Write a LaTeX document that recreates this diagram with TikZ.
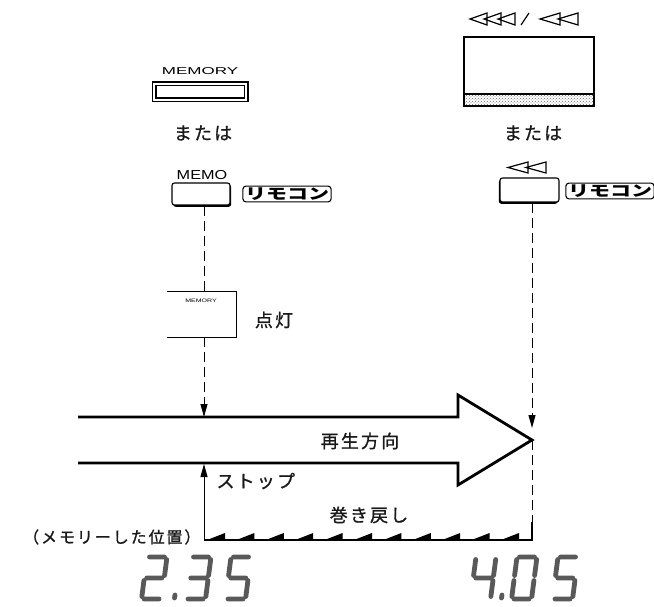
\documentclass[tikz,border=0pt]{standalone}
\usepackage{fontspec}
\setsansfont{Liberation Sans}
\newfontfamily\jp[LetterSpace=12, FakeBold=1]{Noto Sans CJK JP}
\newfontfamily\jpplain{Noto Sans CJK JP}
\usepackage{tikz}
\usetikzlibrary{arrows.meta, patterns, shadows}

% seven segment pieces (local frame, y down)
\def\sega{(2.5,0)--(17.5,0)}
\def\segb{(20,2.5)--(20,18.5)}
\def\segc{(20,23.5)--(20,39.5)}
\def\segd{(2.5,42)--(17.5,42)}
\def\sege{(0,23.5)--(0,39.5)}
\def\segf{(0,2.5)--(0,18.5)}
\def\segg{(2.5,21)--(17.5,21)}

\tikzset{
  guide/.style={dash pattern=on 10pt off 5pt, line width=1pt},
  flow/.style={line width=2.8pt, line join=miter},
  btn/.style={draw, line width=1.1pt, rounded corners=2.5pt, fill=white},
  remo/.style={draw, line width=1.1pt, rounded corners=3pt, inner sep=1.5pt,
    font=\jpplain\bfseries\fontsize{15}{15}\selectfont, xscale=1.4},
  jplabel/.style={font=\jp\fontsize{18}{18}\selectfont, text=black!90},
  seg/.style={line width=4.8pt, line cap=round, draw=black!65},
  tri/.style={line width=1.2pt, line join=miter},
}

\begin{document}
\begin{tikzpicture}[x=1pt, y=-1pt, >={Triangle[length=13pt,width=7pt]}]
    \useasboundingbox (0,0) rectangle (654,607);

    % MEMORY button
    \node[font=\sffamily\fontsize{10}{10}\selectfont, xscale=1.7] (memorytxt) at (200,71) {MEMORY};
    \node[draw, double, line width=1.4pt, double distance=2.2pt, minimum width=92pt, minimum height=16pt] (memorybtn) at (200,92) {};
    \node[jplabel] (orL) at (203,133) {または};

    % MEMO button and remote
    \node[font=\sffamily\fontsize{13}{13}\selectfont, xscale=1.25] (memotxt) at (202,175) {MEMO};
    \node[btn, minimum width=58pt, minimum height=22pt,
          general shadow={fill=black, shadow xshift=1.2pt, shadow yshift=-1.8pt}] (memobtn) at (201,194) {};
    \node[remo] (remoL) at (287,194) {リモコン};

    % memory lamp
    \node[minimum width=69pt, minimum height=45pt] (lamp) at (201.5,314.5) {};
    \draw[line width=1.3pt] (lamp.north west) -- (lamp.north east) -- (lamp.south east) -- (lamp.south west);
    \node[font=\sffamily\fontsize{5}{5}\selectfont, xscale=1.4] (lamptxt) at (201,301) {MEMORY};
    \node[jplabel] (lit) at (274,320) {点灯};

    % rewind keys
    \foreach \t in {470,484,498}
        \draw[tri] (\t,19) -- (\t+17,13) -- (\t+17,25) -- cycle;
    \draw[line width=1.2pt] (521,25) -- (529,13);
    \foreach \t in {540,558}
        \draw[tri] (\t,19) -- (\t+20,13) -- (\t+20,25) -- cycle;
    \node[draw, line width=2pt, minimum width=130pt, minimum height=69pt] (rewpanel) at (529,71.5) {};
    \fill[pattern=crosshatch dots, pattern color=black!60] (465,94) rectangle (593,105);
    \draw[line width=1.2pt] (465,94) -- (593,94);
    \node[jplabel] (orR) at (533,133) {または};
    \foreach \t in {508,526}
        \draw[tri] (\t,167.5) -- (\t+20,162) -- (\t+20,173) -- cycle;
    \node[btn, minimum width=59pt, minimum height=24pt,
          general shadow={fill=black, shadow xshift=-1.2pt, shadow yshift=-1.8pt}] (rewbtn) at (529.5,190) {};
    \node[remo] (remoR) at (610,191) {リモコン};

    % play direction arrow
    \coordinate (tip) at (532,440);
    \draw[flow] (78,417) -- (458,417) -- (458,395) -- (tip) -- (458,485) -- (458,463) -- (78,463);
    \node[jplabel] (dir) at (360,441) {再生方向};

    % memory point
    \coordinate (mark) at (204,417);
    \coordinate (stoppt) at (204,464);
    \coordinate (memopos) at (204,540);
    \coordinate (endpos) at (532,540);
    \draw[guide] (memobtn.south -| mark) -- (lamp.north -| mark);
    \draw[guide,->] (lamp.south -| mark) -- (mark);
    \draw[line width=1pt,->] (memopos) -- (stoppt);
    \node[jplabel, anchor=west] (stop) at (213,481) {ストップ};

    % rewind path
    \draw[guide,->] (rewbtn.south -| tip) -- (532,428);
    \draw[guide] (tip) -- (532,524);
    \draw[line width=1.2pt] (532,522) -- (endpos) -- (memopos);
    \foreach \k in {0,...,10}
        \fill (225+29.4*\k,540) -- ++(0,-7) -- ++(-18,7) -- cycle;
    \node[jplabel] (rew) at (369,515) {巻き戻し};
    \node[jplabel, font=\jp\fontsize{16}{16}\selectfont, anchor=east] (memonote) at (204,537) {（メモリーした位置）};

    % counter readings
    \begin{scope}[shift={(147,557)}, xslant=0.13]
        \draw[seg] \sega \segb \segg \sege \segd;
    \end{scope}
    \draw[seg] (175,595) -- (174.5,598);
    \begin{scope}[shift={(191,557)}, xslant=0.13]
        \draw[seg] \sega \segb \segg \segc \segd;
    \end{scope}
    \begin{scope}[shift={(231,557)}, xslant=0.13]
        \draw[seg] \sega \segf \segg \segc \segd;
    \end{scope}
    \begin{scope}[shift={(476,557)}, xslant=0.13]
        \draw[seg] \segf \segg \segb \segc;
    \end{scope}
    \draw[seg] (502,595) -- (501.5,598);
    \begin{scope}[shift={(517,557)}, xslant=0.13]
        \draw[seg] \sega \segb \segc \segd \sege \segf;
    \end{scope}
    \begin{scope}[shift={(558,557)}, xslant=0.13]
        \draw[seg] \sega \segf \segg \segc \segd;
    \end{scope}
\end{tikzpicture}
\end{document}
